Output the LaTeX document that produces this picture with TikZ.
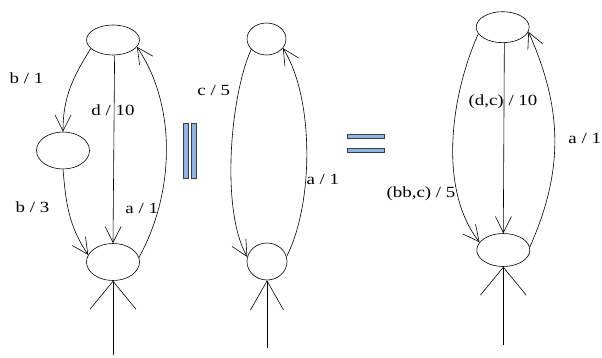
\documentclass[tikz,border=0pt]{standalone}
\usepackage{fontspec}
\setmainfont{Liberation Serif}
\usetikzlibrary{shapes.geometric,arrows.meta}
\definecolor{barblue}{RGB}{140,180,230}
\definecolor{bardraw}{RGB}{60,60,60}
\newcommand{\widetxt}[1]{\scalebox{1.22}[1]{#1}}
\begin{document}
\begin{tikzpicture}[x=1pt,y=1pt,
  state/.style={draw, ellipse, inner sep=0pt, line width=0.6pt},
  edge/.style={draw, line width=0.6pt, -{Straight Barb[length=16pt,width=16pt]}},
  initedge/.style={draw, line width=0.6pt, -{Straight Barb[length=28pt,width=46pt]}},
  initedgenarrow/.style={draw, line width=0.6pt, -{Straight Barb[length=29pt,width=33pt]}},
  lbl/.style={inner sep=0pt, font=\fontsize{15.5}{18}\selectfont},
  bar/.style={fill=barblue, draw=bardraw, line width=0.7pt}]
\useasboundingbox (0,0) rectangle (602,358);
% left automaton
\node[state, minimum width=53pt, minimum height=30pt] (t1) at (113,318) {};
\node[state, minimum width=53pt, minimum height=37pt] (m1) at (63,207.5) {};
\node[state, minimum width=53pt, minimum height=37pt] (b1) at (113,96) {};
\coordinate (i1) at (113,3);
\draw[edge] (t1.201) to[out=238,in=90] (m1.north);
\draw[edge] (t1.-84) -- (b1.north);
\draw[edge] (b1.10) to[out=61,in=-56,looseness=0.88] (t1.-16);
\draw[edge] (m1.south) to[out=-85,in=124] (b1.164);
\draw[initedge] (i1) -- (b1.south);
\node[lbl] (l1) at (26.5,279.5) {\widetxt{b / 1}};
\node[lbl] (l2) at (113,248) {\widetxt{d / 10}};
\node[lbl] (l3) at (32.5,150.5) {\widetxt{b / 3}};
\node[lbl] (l4) at (141.7,149.7) {\widetxt{a / 1}};
% middle automaton
\node[state, minimum width=39pt, minimum height=32pt] (t2) at (266.5,319) {};
\node[state, minimum width=40pt, minimum height=37pt] (b2) at (267,96.5) {};
\coordinate (i2) at (267,10);
\draw[edge] (t2.214) to[out=246,in=120,looseness=0.65] (b2.167);
\draw[edge] (b2.14) to[out=63,in=-58,looseness=0.73] (t2.-29);
\draw[initedgenarrow] (i2) -- (b2.south);
\node[lbl] (l5) at (213.7,268) {\widetxt{c / 5}};
\node[lbl] (l6) at (322.8,178.8) {\widetxt{a / 1}};
% right automaton
\node[state, minimum width=53pt, minimum height=31pt] (t3) at (502.7,330.8) {};
\node[state, minimum width=53pt, minimum height=33pt] (b3) at (503.3,108) {};
\coordinate (i3) at (503.3,13);
\draw[edge] (t3.195) to[out=246,in=128,looseness=0.83] (b3.162);
\draw[edge] (t3.-84) -- (b3.north);
\draw[edge] (b3.6) to[out=66,in=-66,looseness=1] (t3.-10);
\draw[initedge] (i3) -- (b3.south);
\node[lbl] (l7) at (503,256) {\widetxt{(d,c) / 10}};
\node[lbl] (l8) at (421,164) {\widetxt{(bb,c) / 5}};
\node[lbl] (l9) at (584.7,219.3) {\widetxt{a / 1}};
% symbols
\draw[bar] (183,180) rectangle (188,235);
\draw[bar] (191,180) rectangle (196,235);
\draw[bar] (347,220) rectangle (384,224);
\draw[bar] (347,206) rectangle (384,210);
\end{tikzpicture}
\end{document}
